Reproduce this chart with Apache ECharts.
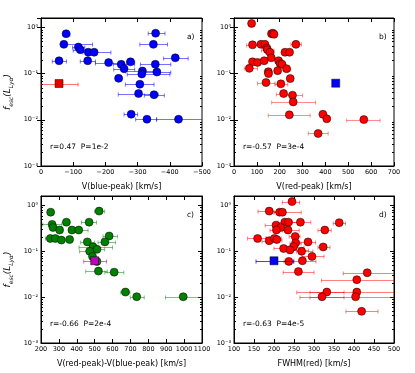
<!DOCTYPE html>
<html>
<head>
<meta charset="utf-8">
<script src="https://cdn.jsdelivr.net/npm/echarts@6/dist/echarts.min.js"></script>
<style>
  html, body { margin: 0; background: #fff; }
  #chart { width: 415px; height: 373px; }
</style>
</head>
<body>
<div id="chart"></div>
<script>
// rows: [x, fesc, xLow, xHigh]
const blueA = [
  [-78, 0.73, -68, -90], [-356, 0.75, -333, -385], [-71, 0.43, -62, -160],
  [-349, 0.43, -307, -393], [-116, 0.376, -98, -136], [-122, 0.33, -100, -140],
  [-147, 0.29, -130, -165], [-165, 0.29, -145, -217], [-56, 0.19, -35, -79],
  [-145, 0.19, -122, -169], [-210, 0.173, -169, -250], [-249, 0.159, -225, -290],
  [-278, 0.18, -266, -291], [-355, 0.159, -309, -403], [-417, 0.22, -381, -457],
  [-258, 0.128, -226, -291], [-315, 0.114, -263, -349], [-313, 0.098, -268, -400],
  [-360, 0.108, -322, -403], [-241, 0.079, -231, -252], [-307, 0.059, -262, -351],
  [-303, 0.037, -240, -364], [-351, 0.035, -321, -383], [-280, 0.0132, -258, -300],
  [-329, 0.0103, -294, -359], [-427, 0.0103, -359, -520]
]
const squareA = [[-56, 0.061, 5, -115]]

const redB = [
  [77, 1.22, 70, 84], [164, 0.73, 155, 175], [170, 0.75, 160, 182], [175, 0.71, 165, 185],
  [81, 0.42, 55, 110], [118, 0.43, 105, 130], [135, 0.43, 120, 150], [143, 0.36, 130, 158],
  [146, 0.33, 120, 175], [157, 0.29, 140, 175], [223, 0.29, 212, 235], [243, 0.29, 232, 255],
  [271, 0.43, 249, 295], [81, 0.18, 72, 90], [103, 0.175, 95, 112], [132, 0.19, 122, 142],
  [163, 0.22, 150, 176], [195, 0.19, 183, 207], [202, 0.165, 190, 214], [210, 0.16, 198, 222],
  [230, 0.128, 215, 248], [67, 0.13, 45, 103], [150, 0.11, 138, 162], [151, 0.10, 140, 162],
  [191, 0.116, 180, 202], [246, 0.078, 238, 255], [140, 0.064, 103, 179], [205, 0.06, 180, 235],
  [217, 0.037, 185, 249], [256, 0.034, 220, 300], [259, 0.0244, 165, 357], [242, 0.0128, 150, 333],
  [389, 0.0132, 380, 398], [406, 0.0105, 398, 414], [568, 0.0101, 493, 639], [368, 0.00506, 325, 412]
]
const squareB = [[445, 0.062, 438, 452]]

const greenC = [
  [254, 0.71, 245, 262], [525, 0.75, 500, 556], [262, 0.385, 210, 316], [267, 0.33, 258, 276],
  [342, 0.43, 328, 356], [304, 0.29, 295, 313], [373, 0.29, 355, 391], [411, 0.29, 360, 463],
  [469, 0.43, 426, 510], [252, 0.19, 225, 275], [280, 0.19, 270, 290], [314, 0.175, 304, 324],
  [360, 0.18, 350, 370], [581, 0.215, 547, 627], [557, 0.16, 519, 616], [459, 0.16, 422, 500],
  [491, 0.125, 413, 600], [513, 0.11, 482, 556], [472, 0.1, 416, 500], [488, 0.077, 478, 498],
  [513, 0.06, 500, 526], [521, 0.037, 450, 570], [609, 0.035, 557, 663], [672, 0.0129, 646, 697],
  [735, 0.0102, 699, 777], [995, 0.0102, 896, 1120]
]
const squareC = [[500, 0.062, 439, 566]]

const redD = [
  [245, 1.21, 221, 264], [188, 0.75, 160, 215], [214, 0.71, 200, 228], [221, 0.71, 200, 268],
  [227, 0.43, 210, 245], [236, 0.43, 220, 260], [266, 0.43, 245, 292], [363, 0.42, 348, 379],
  [205, 0.37, 178, 232], [217, 0.33, 200, 240], [206, 0.29, 190, 222], [235, 0.29, 227, 263],
  [327, 0.29, 310, 343], [159, 0.19, 134, 180], [188, 0.17, 170, 206], [201, 0.19, 180, 218],
  [207, 0.18, 195, 220], [253, 0.21, 238, 265], [254, 0.152, 240, 268], [285, 0.16, 264, 304],
  [249, 0.126, 235, 275], [224, 0.115, 200, 250], [240, 0.107, 222, 286], [269, 0.1, 256, 297],
  [323, 0.124, 310, 340], [295, 0.077, 270, 325], [237, 0.06, 225, 250], [271, 0.062, 242, 305],
  [261, 0.036, 223, 300], [433, 0.034, 373, 520], [407, 0.024, 319, 520], [332, 0.0129, 257, 375],
  [407, 0.0129, 290, 520], [320, 0.0102, 265, 375], [404, 0.0102, 290, 520], [419, 0.0049, 380, 460]
]
const squareD = [[200, 0.062, 155, 249]]

const stats = ['r=0.47  P=1e-2', 'r=-0.57  P=3e-4', 'r=-0.66  P=2e-4', 'r=-0.63  P=4e-5']
const tags = ['a)', 'b)', 'c)', 'd)']
const xNames = ['V(blue-peak) [km/s]', 'V(red-peak) [km/s]', 'V(red-peak)-V(blue-peak) [km/s]', 'FWHM(red) [km/s]']
const xRanges = [[-500, 0, 100], [0, 700, 100], [200, 1100, 100], [100, 500, 50]]

const FONT = 'DejaVu Sans'
const Y_MIN = 0.001
const Y_MAX = 1.6

const grids = [
  { left: 41, top: 18, width: 161, height: 148 },
  { left: 234, top: 18, width: 160, height: 148 },
  { left: 41, top: 196, width: 161, height: 147 },
  { left: 234, top: 196, width: 160, height: 147 }
]

const SUP = { '-': '\u207b', '0': '\u2070', '1': '\u00b9', '2': '\u00b2', '3': '\u00b3' }
function logLabel(v) {
  const e = Math.log10(v)
  if (Math.abs(e - Math.round(e)) > 1e-6) return ''
  return '10' + String(Math.round(e)).split('').map(c => SUP[c]).join('')
}

const minorVals = []
for (let k = -3; k <= 0; k++) {
  for (let m = 2; m <= 9; m++) {
    const v = m * Math.pow(10, k)
    if (v < Y_MAX) minorVals.push(v)
  }
}

function errBar(color) {
  return (params, api) => {
    const y = api.value(1)
    const a = api.coord([api.value(2), y])
    const b = api.coord([api.value(3), y])
    const yy = Math.round(a[1]) + 0.5
    const st = { stroke: color, lineWidth: 1, fill: null }
    return {
      type: 'group',
      children: [
        { type: 'line', shape: { x1: a[0], y1: yy, x2: b[0], y2: yy }, style: st },
        { type: 'line', shape: { x1: a[0], y1: yy - 2, x2: a[0], y2: yy + 2 }, style: st },
        { type: 'line', shape: { x1: b[0], y1: yy - 2, x2: b[0], y2: yy + 2 }, style: st }
      ]
    }
  }
}

function minorRender(params, api) {
  const cs = params.coordSys
  const y = Math.round(api.coord([api.value(0), api.value(1)])[1]) + 0.5
  const st = { stroke: '#000', lineWidth: 1 }
  return {
    type: 'group',
    children: [
      { type: 'line', shape: { x1: cs.x, y1: y, x2: cs.x + 2, y2: y }, style: st },
      { type: 'line', shape: { x1: cs.x + cs.width - 2, y1: y, x2: cs.x + cs.width, y2: y }, style: st }
    ]
  }
}

const xAxes = []
const yAxes = []
const series = []

grids.forEach((g, i) => {
  const [lo, hi, step] = xRanges[i]
  const common = {
    gridIndex: i, type: 'value', min: lo, max: hi, interval: step, inverse: i === 0,
    splitLine: { show: false },
    axisLine: { show: true, lineStyle: { color: '#000', width: 1 } },
    axisTick: { show: true, inside: true, length: 4, lineStyle: { color: '#000' } }
  }
  xAxes.push(Object.assign({}, common, {
    position: 'bottom',
    name: xNames[i], nameLocation: 'middle', nameGap: 17,
    nameTextStyle: { fontFamily: FONT, fontSize: 8, color: '#000' },
    axisLabel: {
      fontFamily: FONT, fontSize: 6.5, color: '#000', margin: 3,
      formatter: v => (v < 0 ? '\u2212' + Math.abs(v) : String(v))
    }
  }))
  xAxes.push(Object.assign({}, common, { position: 'top', axisLabel: { show: false } }))

  const ycommon = {
    gridIndex: i, type: 'log', logBase: 10, min: Y_MIN, max: Y_MAX,
    splitLine: { show: false },
    axisLine: { show: true, lineStyle: { color: '#000', width: 1 } },
    axisTick: { show: true, inside: true, length: 4, lineStyle: { color: '#000' } }
  }
  const yMain = Object.assign({}, ycommon, {
    position: 'left',
    axisLabel: {
      fontFamily: FONT, fontSize: 6.5, color: '#000', margin: 3,
      showMaxLabel: false, formatter: logLabel
    }
  })
  if (i === 0 || i === 2) {
    Object.assign(yMain, {
      name: '{i|f}{s|esc}{i|(L}{s|Ly\u03b1}{i|)}',
      nameLocation: 'middle', nameGap: 27,
      nameTextStyle: {
        fontFamily: FONT, fontSize: 9, color: '#000',
        rich: {
          i: { fontFamily: FONT, fontStyle: 'italic', fontSize: 9, lineHeight: 12 },
          s: { fontFamily: FONT, fontStyle: 'italic', fontSize: 6, lineHeight: 12, verticalAlign: 'bottom', padding: [5, 0, 0, 0] }
        }
      }
    })
  }
  yAxes.push(yMain)
  yAxes.push(Object.assign({}, ycommon, { position: 'right', axisLabel: { show: false } }))
})

function addPanel(i, pts, color, errColor, square, sqColor, sqErrColor) {
  const xi = i * 2
  const yi = i * 2
  series.push({
    type: 'custom', xAxisIndex: xi, yAxisIndex: yi, clip: true, silent: true, z: 2,
    renderItem: minorRender,
    data: minorVals.map(v => [xRanges[i][0], v]),
    encode: { x: 0, y: 1 }
  })
  series.push({
    type: 'custom', xAxisIndex: xi, yAxisIndex: yi, clip: true, silent: true, z: 3,
    renderItem: errBar(errColor), data: pts, encode: { x: 0, y: 1 }
  })
  series.push({
    type: 'scatter', xAxisIndex: xi, yAxisIndex: yi, z: 4, symbol: 'circle', symbolSize: 8,
    itemStyle: { color: color, borderColor: '#000', borderWidth: 0.5, opacity: 1 },
    data: pts.map(p => [p[0], p[1]])
  })
  series.push({
    type: 'custom', xAxisIndex: xi, yAxisIndex: yi, clip: true, silent: true, z: 5,
    renderItem: errBar(sqErrColor), data: square, encode: { x: 0, y: 1 }
  })
  series.push({
    type: 'scatter', xAxisIndex: xi, yAxisIndex: yi, z: 6, symbol: 'rect', symbolSize: 8,
    itemStyle: { color: sqColor, borderColor: '#000', borderWidth: 0.5, opacity: 1 },
    data: square.map(p => [p[0], p[1]])
  })
}

addPanel(0, blueA, '#0000ff', 'rgba(0,0,255,0.55)', squareA, '#e00000', 'rgba(255,0,0,0.55)')
addPanel(1, redB, '#ff0000', 'rgba(255,0,0,0.45)', squareB, '#0000ff', 'rgba(0,0,255,0.5)')
addPanel(2, greenC, '#008000', 'rgba(0,128,0,0.5)', squareC, '#bf00bf', 'rgba(191,0,191,0.6)')
addPanel(3, redD, '#ff0000', 'rgba(255,0,0,0.5)', squareD, '#0000ff', 'rgba(0,0,255,0.75)')

const graphics = []
grids.forEach((g, i) => {
  graphics.push({
    type: 'text', left: g.left + 9, top: g.top + g.height - 23,
    style: { text: stats[i], fontFamily: FONT, fontSize: 7.5, fill: '#000' }
  })
  graphics.push({
    type: 'text', left: g.left + g.width - 15, top: g.top + 15,
    style: { text: tags[i], fontFamily: FONT, fontSize: 7.5, fill: '#000' }
  })
})

const chart = echarts.init(document.getElementById('chart'), null, { renderer: 'canvas' })
chart.setOption({
  animation: false,
  backgroundColor: '#fff',
  grid: grids.map(g => Object.assign({ show: true, borderColor: '#000', borderWidth: 1, backgroundColor: 'transparent' }, g)),
  xAxis: xAxes,
  yAxis: yAxes,
  series: series,
  graphic: graphics
})
</script>
</body>
</html>
